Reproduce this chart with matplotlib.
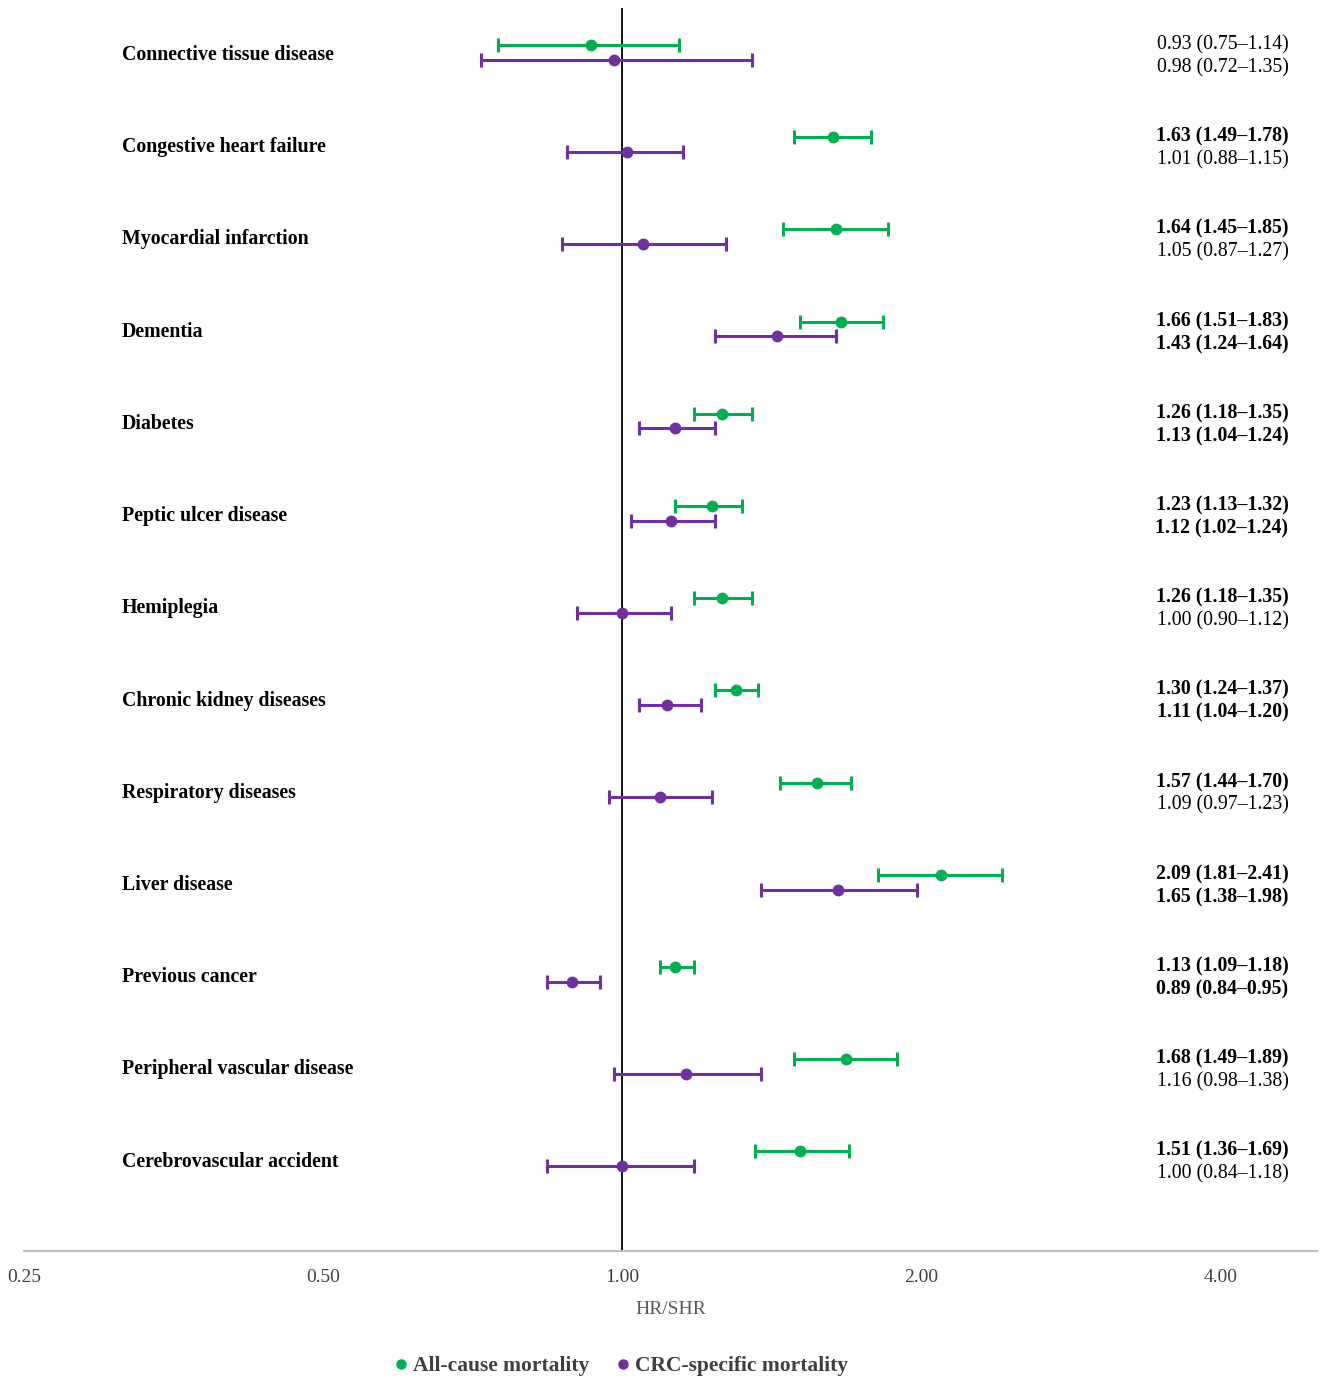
import numpy as np
import matplotlib
matplotlib.use("Agg")
import matplotlib.pyplot as plt
from matplotlib.lines import Line2D

plt.rcParams['font.family'] = ['Liberation Serif', 'DejaVu Serif']

conditions = ["Connective tissue disease", "Congestive heart failure", "Myocardial infarction",
              "Dementia", "Diabetes", "Peptic ulcer disease", "Hemiplegia",
              "Chronic kidney diseases", "Respiratory diseases", "Liver disease",
              "Previous cancer", "Peripheral vascular disease", "Cerebrovascular accident"]

all_hr = [0.93, 1.63, 1.64, 1.66, 1.26, 1.23, 1.26, 1.30, 1.57, 2.09, 1.13, 1.68, 1.51]
all_lo = [0.75, 1.49, 1.45, 1.51, 1.18, 1.13, 1.18, 1.24, 1.44, 1.81, 1.09, 1.49, 1.36]
all_hi = [1.14, 1.78, 1.85, 1.83, 1.35, 1.32, 1.35, 1.37, 1.70, 2.41, 1.18, 1.89, 1.69]

crc_hr = [0.98, 1.01, 1.05, 1.43, 1.13, 1.12, 1.00, 1.11, 1.09, 1.65, 0.89, 1.16, 1.00]
crc_lo = [0.72, 0.88, 0.87, 1.24, 1.04, 1.02, 0.90, 1.04, 0.97, 1.38, 0.84, 0.98, 0.84]
crc_hi = [1.35, 1.15, 1.27, 1.64, 1.24, 1.24, 1.12, 1.20, 1.23, 1.98, 0.95, 1.38, 1.18]

ticks = [0.25, 0.5, 1.0, 2.0, 4.0]

green = "#00B050"
purple = "#7030A0"

fig = plt.figure(figsize=(13.25, 13.83), dpi=100)
ax = fig.add_axes([24 / 1325, 132 / 1383, 1293 / 1325, 1243 / 1383])

ax.set_xscale("log", base=2)
ax.set_xlim(0.25, 5.0)
ax.set_ylim(12.99, -0.49)

y = np.arange(len(conditions))
off = 0.08

def draw(hr, lo, hi, ypos, color):
    hr = np.array(hr)
    err = [hr - np.array(lo), np.array(hi) - hr]
    ax.errorbar(hr, ypos, xerr=err, fmt="o", color=color, ms=7.5, mec=color,
                elinewidth=2.2, capsize=5, capthick=2.2, zorder=3)

ax.axvline(1.0, color="black", lw=1.3, zorder=2)
draw(all_hr, all_lo, all_hi, y - off - 0.01, green)
draw(crc_hr, crc_lo, crc_hi, y + off - 0.01, purple)

# labels on the left and estimates on the right
for i, name in enumerate(conditions):
    ax.text(0.25 * 2 ** (98 / 299), i + 0.02, name, ha="left", va="center",
            fontsize=14.3, fontweight="bold", color="black")
    for hr, lo, hi, dy in [(all_hr[i], all_lo[i], all_hi[i], -0.095),
                           (crc_hr[i], crc_lo[i], crc_hi[i], 0.155)]:
        sig = lo > 1 or hi < 1
        ax.text(4.68, i + dy, f"{hr:.2f} ({lo:.2f}\u2013{hi:.2f})", ha="right", va="center",
                fontsize=14.3, fontweight="bold" if sig else "normal", color="black")

ax.set_yticks([])
ax.set_xticks(ticks)
ax.set_xticklabels([f"{t:.2f}" for t in ticks], fontsize=14, color="#404040")
ax.xaxis.set_minor_locator(matplotlib.ticker.NullLocator())
ax.tick_params(axis="x", length=0, pad=13)
for s in ["top", "right", "left"]:
    ax.spines[s].set_visible(False)
ax.spines["bottom"].set_color("#BFBFBF")
ax.spines["bottom"].set_linewidth(1.5)
ax.set_xlabel("HR/SHR", fontsize=14, color="#595959", labelpad=11)

handles = [Line2D([], [], ls="none", marker="o", color=green, ms=6.5),
           Line2D([], [], ls="none", marker="o", color=purple, ms=6.5)]
leg = fig.legend(handles, ["All-cause mortality", "CRC-specific mortality"],
                 loc="center", bbox_to_anchor=(619 / 1325, 1 - 1366 / 1383), ncol=2,
                 frameon=False, handletextpad=0.05, columnspacing=1.1, handlelength=1.0,
                 prop={"size": 15.5, "weight": "bold"})
for t in leg.get_texts():
    t.set_color("#404040")

fig.savefig("out.png", dpi=100)
